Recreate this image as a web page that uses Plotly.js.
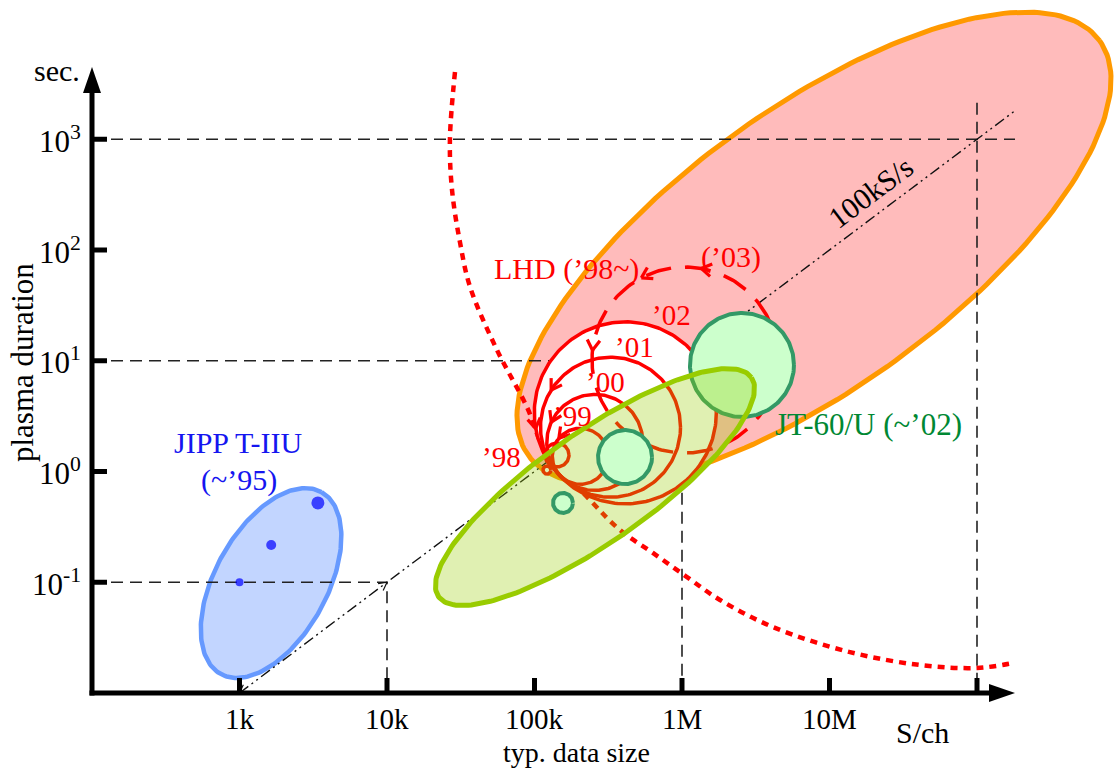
<!DOCTYPE html>
<html><head><meta charset="utf-8">
<script src="https://cdn.plot.ly/plotly-3.0.1.min.js"></script>
<style>html,body{margin:0;padding:0;background:#fff}</style>
</head><body><div id="chart" style="width:1118px;height:769px"></div>
<script>
// ================= DATA =================
const xTickVals = [1e3, 1e4, 1e5, 1e6, 1e7, 1e8];
const xTickText = ['1k', '10k', '100k', '1M', '10M', ''];
const yTickVals = [0.1, 1, 10, 100, 1000];
const yTickText = ['10<sup>-1</sup>', '10<sup>0</sup>', '10<sup>1</sup>', '10<sup>2</sup>', '10<sup>3</sup>'];

// operating ranges (ellipses): centre data size [S/ch], centre duration [s]
const rangeNames = ['LHD', 'JT-60/U', 'JIPP T-IIU'];
const rangeSize = [7.85e6, 2.57e5, 1637];
const rangeDur = [104, 0.724, 0.0984];

// JIPP T-IIU (~'95) shots
const jippSize = [1000, 1640, 3400];
const jippDur = [0.1, 0.217, 0.52];

// JT-60/U (~'02) shots
const jtSize = [2.55e6, 4.11e5, 1.56e5];
const jtDur = [9.16, 1.35, 0.52];

// LHD yearly progress ('98 ... '03)
const lhdYears = ["'98a", "'98", "'99", "'00", "'01", "'02", "'03"];
const lhdSize = [1.215e5, 1.421e5, 2.044e5, 2.563e5, 3.276e5, 4.127e5, 1.048e6];
const lhdDur = [1.031, 1.409, 1.372, 1.832, 2.512, 3.388, 10.16];

// 100 kS/s line : size = rate * duration
const rate = 1e5;
const rateDur = [0.01, 1810];

// reference guide corners (size, duration)
const guideSize = [1e4, 1e6];
const guideDur = [0.1, 10];
const guideTopDur = 1000;      // horizontal guide at 10^3 s
const guideTopEnd = 1.81e8;
const guideRightSize = 1e8;    // vertical guide at 100M
const guideRightTop = 2140;

// dotted boundary curve
const boundSize = [28900, 26700, 27600, 31300, 36600, 55700, 88900, 117800, 237700, 380000, 635000, 1.081e6, 1.811e6, 4.14e6, 1.377e7, 4.11e7, 1.0e8, 1.754e8];
const boundDur = [4046, 984, 348, 116, 46.3, 12.5, 3.82, 1.56, 0.553, 0.296, 0.184, 0.1114, 0.0692, 0.0394, 0.0234, 0.0179, 0.01683, 0.01866];

// ================= STYLE / GEOMETRY =================
const FONT = 'Liberation Serif, Times New Roman, serif';
const W = 1118, H = 769;
const PX_X = 147.5, PX_Y = 110.75;     // pixels per decade
const OX = 92, OY = 693;               // pixel position of (100 S/ch, 0.01 s)
const xr = [2 - OX / PX_X, 2 + (W - OX) / PX_X];
const yr = [-2 - (H - OY) / PX_Y, -2 + OY / PX_Y];
const L = Math.log10;
const px2x = p => 2 + (p - OX) / PX_X;   // label placement helpers
const px2y = p => -2 + (OY - p) / PX_Y;

const ellStyle = [ // semi axes in px, angle deg
  {a: 353, b: 139, ang: 36},
  {a: 191, b: 55, ang: 35},
  {a: 104, b: 56, ang: 61}
];
const lhdR = [4, 12, 28, 48, 70, 91, 93];
const lhdArrowAng = [[], [], [140], [155], [148], [190], [80, 118, 174]];
const jtR = [52, 27, 10];
const jippMarker = [8, 10, 13];

function ellipsePts(cx, cy, a, b, deg) {
  const th = deg * Math.PI / 180, xs = [], ys = [];
  const n = 220;
  for (let i = 0; i <= n; i++) {
    const t = 2 * Math.PI * i / n;
    const dx = a * Math.cos(t) * Math.cos(th) - b * Math.sin(t) * Math.sin(th);
    const dy = a * Math.cos(t) * Math.sin(th) + b * Math.sin(t) * Math.cos(th);
    xs.push(L(cx) + dx / PX_X);
    ys.push(L(cy) + dy / PX_Y);
  }
  return {x: xs, y: ys};
}
// chevron arrow head: tip (data, log units), travel direction (screen px vector, y up)
function chevron(tx, ty, dxs, dys, len, spread, out) {
  const n = Math.hypot(dxs, dys), ux = dxs / n, uy = dys / n;
  const s = spread * Math.PI / 180;
  [s, -s].forEach(function (a) {
    const bx = -(ux * Math.cos(a) - uy * Math.sin(a)) * len;
    const by = -(ux * Math.sin(a) + uy * Math.cos(a)) * len;
    out.x.push(tx + bx / PX_X, tx, null);
    out.y.push(ty + by / PX_Y, ty, null);
  });
}

const traces = [];
function add(pts, opts) {
  traces.push(Object.assign({type: 'scatter', mode: 'lines', x: pts.x, y: pts.y,
    hoverinfo: 'skip', showlegend: false, cliponaxis: false}, opts));
}

// LHD range ellipse
add(ellipsePts(rangeSize[0], rangeDur[0], ellStyle[0].a, ellStyle[0].b, ellStyle[0].ang),
  {fill: 'toself', fillcolor: '#FFBBBB', line: {color: '#FF9900', width: 5}});
// JIPP range ellipse
add(ellipsePts(rangeSize[2], rangeDur[2], ellStyle[2].a, ellStyle[2].b, ellStyle[2].ang),
  {fill: 'toself', fillcolor: '#C2D5FF', line: {color: '#6699FF', width: 4.5}});

// dashed guides
(function () {
  const gx = [], gy = [];
  gx.push(2, L(guideTopEnd), null); gy.push(L(guideTopDur), L(guideTopDur), null);
  for (let i = 0; i < guideSize.length; i++) {
    gx.push(2, L(guideSize[i]), L(guideSize[i]), null);
    gy.push(L(guideDur[i]), L(guideDur[i]), -2, null);
  }
  gx.push(L(guideRightSize), L(guideRightSize)); gy.push(L(guideRightTop), -2);
  add({x: gx, y: gy}, {line: {color: '#222', width: 1.6, dash: '12px,7px'}, connectgaps: false});
})();
// 100kS/s line
add({x: rateDur.map(d => L(rate * d)), y: rateDur.map(L)},
  {line: {color: '#111', width: 1.4, dash: '11px,4px,2px,4px,2px,4px'}});
(function () {
  const o = {x: [], y: []};
  chevron(L(rate * rateDur[0]), L(rateDur[0]), -PX_X, -PX_Y, 9, 28, o);
  chevron(L(rate * 0.1), L(0.1), PX_X, PX_Y, 9, 28, o);
  add(o, {line: {color: '#111', width: 1.2}});
})();
// dotted boundary
add({x: boundSize.map(L), y: boundDur.map(L)},
  {line: {color: '#FF0000', width: 4.5, dash: '7px,6px', shape: 'spline', smoothing: 1}});

// LHD circles: white fills then outlines (solid ones), then dashed '03
const nL = lhdSize.length;
for (let i = nL - 2; i >= 0; i--) {
  add(ellipsePts(lhdSize[i], lhdDur[i], lhdR[i], lhdR[i], 0),
    {fill: 'toself', fillcolor: '#FFFFFF', line: {width: 0, color: 'rgba(0,0,0,0)'}});
}
for (let i = nL - 2; i >= 0; i--) {
  add(ellipsePts(lhdSize[i], lhdDur[i], lhdR[i], lhdR[i], 0),
    {line: {color: '#FF0000', width: 3.5}});
}
add(ellipsePts(lhdSize[nL - 1], lhdDur[nL - 1], lhdR[nL - 1], lhdR[nL - 1], 0),
  {line: {color: '#FF0000', width: 3.5, dash: '26px,14px'}});
(function () {
  const o = {x: [], y: []};
  for (let i = 0; i < nL; i++) {
    lhdArrowAng[i].forEach(function (ph) {
      const p = ph * Math.PI / 180;
      const tx = L(lhdSize[i]) + lhdR[i] * Math.cos(p) / PX_X;
      const ty = L(lhdDur[i]) + lhdR[i] * Math.sin(p) / PX_Y;
      chevron(tx, ty, -Math.sin(p), Math.cos(p), 12, 32, o);
    });
  }
  add(o, {line: {color: '#FF0000', width: 3.2}});
})();

// JT-60/U big circle (below the range ellipse)
add(ellipsePts(jtSize[0], jtDur[0], jtR[0], jtR[0], 0),
  {fill: 'toself', fillcolor: '#CCFFCC', line: {color: '#339966', width: 4}});
// JT-60/U range ellipse (translucent)
add(ellipsePts(rangeSize[1], rangeDur[1], ellStyle[1].a, ellStyle[1].b, ellStyle[1].ang),
  {fill: 'toself', fillcolor: 'rgba(153,204,0,0.3)', line: {color: '#99CC00', width: 5}});
for (let i = 1; i < jtSize.length; i++) {
  add(ellipsePts(jtSize[i], jtDur[i], jtR[i], jtR[i], 0),
    {fill: 'toself', fillcolor: '#CCFFCC', line: {color: '#339966', width: 4}});
}
// JIPP dots
traces.push({type: 'scatter', mode: 'markers', x: jippSize.map(L), y: jippDur.map(L),
  marker: {color: '#0000FF', size: jippMarker, line: {width: 0}}, hoverinfo: 'skip', showlegend: false});

// ================= AXES (drawn as shapes) =================
const shapes = [];
const xArrowTip = px2x(1015), xArrowBase = px2x(989);
const yArrowTip = px2y(67), yArrowBase = px2y(92);
shapes.push({type: 'line', xref: 'x', yref: 'y', x0: px2x(89.5), x1: xArrowBase, y0: -2, y1: -2, line: {color: '#000', width: 5}});
shapes.push({type: 'line', xref: 'x', yref: 'y', x0: 2, x1: 2, y0: px2y(695.5), y1: yArrowBase, line: {color: '#000', width: 5}});
shapes.push({type: 'path', xref: 'x', yref: 'y', xsizemode: 'pixel', ysizemode: 'pixel', xanchor: xArrowTip, yanchor: -2,
  path: 'M -26,-9 L 0,0 L -26,9 Z', fillcolor: '#000', line: {width: 0}});
shapes.push({type: 'path', xref: 'x', yref: 'y', xsizemode: 'pixel', ysizemode: 'pixel', xanchor: 2, yanchor: yArrowTip,
  path: 'M -9,-26 L 0,0 L 9,-26 Z', fillcolor: '#000', line: {width: 0}});
xTickVals.forEach(function (v) {
  shapes.push({type: 'line', xref: 'x', yref: 'y', x0: L(v), x1: L(v), y0: -2, y1: -2 + 15 / PX_Y, line: {color: '#000', width: 5}});
});
yTickVals.forEach(function (v) {
  shapes.push({type: 'line', xref: 'x', yref: 'y', x0: 2, x1: 2 + 15 / PX_X, y0: L(v), y1: L(v), line: {color: '#000', width: 5}});
});

// ================= ANNOTATIONS =================
const ann = [];
function txt(x, y, text, color, size, extra) {
  ann.push(Object.assign({x: x, y: y, xref: 'x', yref: 'y', text: text, showarrow: false,
    xanchor: 'center', yanchor: 'middle', font: {family: FONT, size: size, color: color}}, extra || {}));
}
xTickVals.forEach(function (v, i) {
  if (xTickText[i]) txt(L(v), px2y(719), xTickText[i], '#000', 29, {borderpad: 0});
});
yTickVals.forEach(function (v, i) {
  txt(px2x(83), L(v), yTickText[i], '#000', 31, {xanchor: 'right'});
});
txt(px2x(566), px2y(269), 'LHD (’98~)', '#FF0000', 30);
txt(px2x(731), px2y(257), '(’03)', '#FF0000', 30);
txt(px2x(671), px2y(315), '’02', '#FF0000', 29);
txt(px2x(634), px2y(347), '’01', '#FF0000', 29);
txt(px2x(605), px2y(382), '’00', '#FF0000', 29);
txt(px2x(572), px2y(416), '’99', '#FF0000', 29);
txt(px2x(501), px2y(457), '’98', '#FF0000', 29);
txt(px2x(868), px2y(424), 'JT-60/U (~’02)', '#008833', 31);
txt(px2x(238), px2y(442), 'JIPP T-IIU', '#1515F0', 30);
txt(px2x(239), px2y(480), '(~’95)', '#1515F0', 30);
txt(px2x(870), px2y(192), '100kS/s', '#000', 30, {textangle: -37});
txt(px2x(576), px2y(752), 'typ. data size', '#000', 28, {borderpad: 0});
txt(px2x(922), px2y(732), 'S/ch', '#000', 30);
txt(px2x(57), px2y(70), 'sec.', '#000', 30);
txt(px2x(22), px2y(363), 'plasma duration', '#000', 31, {textangle: -90});

const layout = {
  width: W, height: H, margin: {l: 0, r: 0, t: 0, b: 0}, paper_bgcolor: '#fff', plot_bgcolor: '#fff',
  showlegend: false, shapes: shapes, annotations: ann,
  xaxis: {range: xr, visible: false, fixedrange: true},
  yaxis: {range: yr, visible: false, fixedrange: true}
};
Plotly.newPlot('chart', traces, layout, {staticPlot: true, displayModeBar: false});
</script></body></html>
